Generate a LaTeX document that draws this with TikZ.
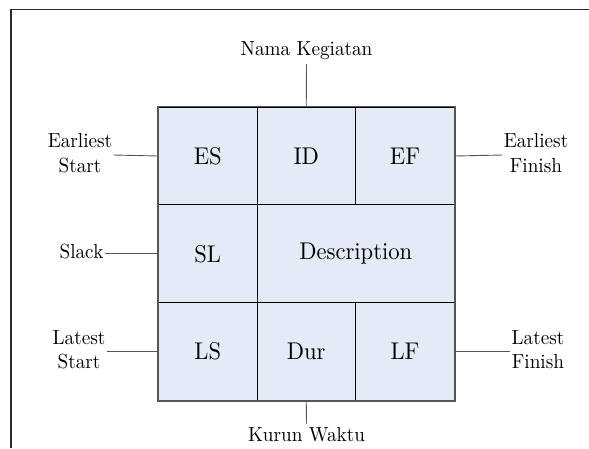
\documentclass[tikz,border=0pt]{standalone}
\usepackage{graphicx}
\definecolor{cellfill}{HTML}{E4EBF6}
\definecolor{framecol}{HTML}{2A2A2A}
\definecolor{gridcol}{HTML}{555555}
\newcommand\celltxt[1]{\scalebox{2.26}[2.42]{#1}}
\newcommand\labtxt[1]{\scalebox{1.92}[2.04]{\begin{tabular}{@{}c@{}}#1\end{tabular}}}
\begin{document}
\begin{tikzpicture}[x=1pt,y=-1pt,
  cell/.style={rectangle,draw=black,line width=0.8pt,fill=cellfill,inner sep=0pt,
    minimum height=97.8pt,font=\fontsize{10}{12}\selectfont},
  lab/.style={align=center,inner sep=1pt,font=\fontsize{10}{12}\selectfont},
  conn/.style={draw=gridcol,line width=0.9pt}]
\useasboundingbox (0,0) rectangle (589,448);
% outer frame (open at right and bottom)
\draw[framecol,line width=1.1pt] (11,448) -- (11,9.5) -- (589,9.5);
% cells
\node[cell,minimum width=98.5pt] (es) at (207.75,156) {\celltxt{ES}};
\node[cell,minimum width=98.5pt] (id) at (306.25,156) {\celltxt{ID}};
\node[cell,minimum width=99pt]   (ef) at (405,156) {\celltxt{EF}};
\node[cell,minimum width=98.5pt] (sl) at (207.75,253.75) {\celltxt{SL}};
\node[cell,minimum width=197.5pt] (de) at (355.75,253.75) {\celltxt{Description}};
\node[cell,minimum width=98.5pt] (ls) at (207.75,351.5) {\celltxt{LS}};
\node[cell,minimum width=98.5pt] (du) at (306.25,351.5) {\celltxt{Dur}};
\node[cell,minimum width=99pt]   (lf) at (405,351.5) {\celltxt{LF}};
\draw[gridcol,line width=1.4pt] (es.north west) rectangle (lf.south east);
% labels
\node[lab] (nk) at (306.5,51) {\labtxt{Nama Kegiatan}};
\node[lab] (kw) at (306.5,437) {\labtxt{Kurun Waktu}};
\node[lab] (est) at (80,155) {\labtxt{Earliest\\Start}};
\node[lab] (sla) at (81.5,253.75) {\labtxt{Slack}};
\node[lab] (lst) at (79,351.5) {\labtxt{Latest\\Start}};
\node[lab] (efi) at (536,155) {\labtxt{Earliest\\Finish}};
\node[lab] (lfi) at (538,351.5) {\labtxt{Latest\\Finish}};
% connectors
\draw[conn] (nk.south) -- (id.north);
\draw[conn] (du.south) -- (kw.north);
\draw[conn] (est.east) -- (es.west);
\draw[conn] (sla.east) -- (sl.west);
\draw[conn] (lst.east) -- (ls.west);
\draw[conn] (ef.east) -- (efi.west);
\draw[conn] (lf.east) -- (lfi.west);
\end{tikzpicture}
\end{document}
